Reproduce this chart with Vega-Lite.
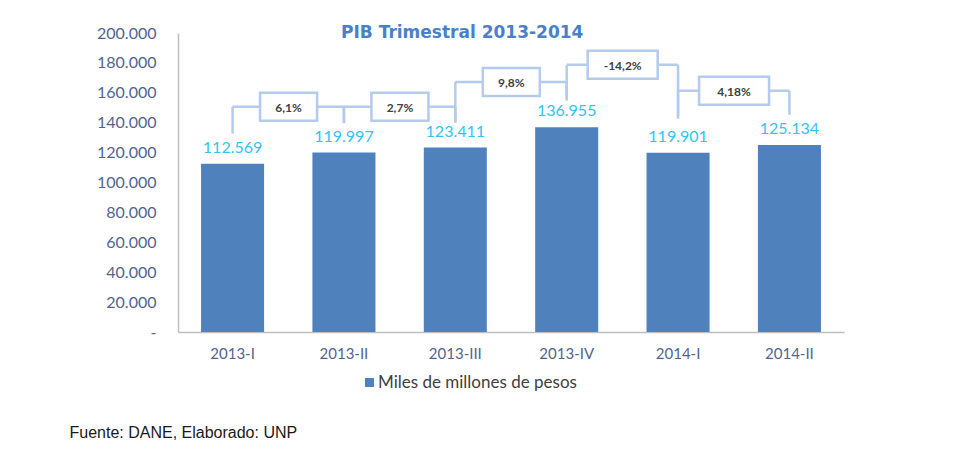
{
  "$schema": "https://vega.github.io/schema/vega-lite/v6.json",
  "width": 666,
  "height": 299,
  "autosize": {"type": "none"},
  "padding": {"left": 178, "top": 33, "right": 136, "bottom": 124},
  "background": "white",
  "title": {
    "text": "PIB Trimestral 2013-2014",
    "anchor": "start",
    "frame": "group",
    "dx": 163,
    "offset": -30,
    "baseline": "alphabetic",
    "font": "DejaVu Sans",
    "fontSize": 17,
    "fontWeight": "bold",
    "color": "#4A80C8"
  },
  "config": {
    "view": {"stroke": null},
    "axisY": {
      "labelOverlap": false,
      "labelSeparation": 0,
      "labelFont": "Lato",
      "labelFontSize": 16,
      "labelColor": "#50658F",
      "labelPadding": 22,
      "ticks": false,
      "grid": false,
      "domainColor": "#BFBFBF",
      "domainWidth": 1.5,
      "title": null
    },
    "locale": {"number": {"decimal": ",", "thousands": ".", "grouping": [3], "currency": ["$", ""]}}
  },
  "datasets": {
    "pib": [
      {"trimestre": "2013-I", "valor": 112569},
      {"trimestre": "2013-II", "valor": 119997},
      {"trimestre": "2013-III", "valor": 123411},
      {"trimestre": "2013-IV", "valor": 136955},
      {"trimestre": "2014-I", "valor": 119901},
      {"trimestre": "2014-II", "valor": 125134}
    ],
    "variaciones": [
      {"desde": "2013-I", "hasta": "2013-II", "variacion": "6,1%", "nivel": 150700, "base_desde": 132700, "base_hasta": 139700},
      {"desde": "2013-II", "hasta": "2013-III", "variacion": "2,7%", "nivel": 150700, "base_desde": 139700, "base_hasta": 140200},
      {"desde": "2013-III", "hasta": "2013-IV", "variacion": "9,8%", "nivel": 167300, "base_desde": 140000, "base_hasta": 154700},
      {"desde": "2013-IV", "hasta": "2014-I", "variacion": "-14,2%", "nivel": 178700, "base_desde": 157300, "base_hasta": 142700},
      {"desde": "2014-I", "hasta": "2014-II", "variacion": "4,18%", "nivel": 161300, "base_desde": 144700, "base_hasta": 145300}
    ]
  },
  "layer": [
    {
      "data": {"name": "pib"},
      "mark": {"type": "bar"},
      "encoding": {
        "x": {
          "field": "trimestre",
          "type": "nominal",
          "sort": null,
          "scale": {"domain": ["2013-I", "2013-II", "2013-III", "2013-IV", "2014-I", "2014-II"], "paddingInner": 0.434, "paddingOuter": 0.207},
          "axis": {
            "title": "Fuente: DANE, Elaborado: UNP",
            "titleFont": "Liberation Sans",
            "titleFontSize": 16,
            "titleFontWeight": "normal",
            "titleColor": "#1a1a1a",
            "titleAlign": "left",
            "titleBaseline": "alphabetic",
            "titleX": -109,
            "titleY": 105,
            "labelAngle": 0,
            "labelFont": "Lato",
            "labelFontSize": 15,
            "labelColor": "#50658F",
            "labelPadding": 14,
            "ticks": false,
            "domainColor": "#BFBFBF",
            "domainWidth": 1.5
          }
        },
        "y": {
          "field": "valor",
          "type": "quantitative",
          "scale": {"domain": [0, 200000], "nice": false},
          "axis": {
            "title": null,
            "values": [0, 20000, 40000, 60000, 80000, 100000, 120000, 140000, 160000, 180000, 200000],
            "labelOverlap": false,
            "labelExpr": "datum.value == 0 ? '-\u00a0\u00a0\u00a0' : replace(format(datum.value, ',d'), regexp(',', 'g'), '.')"
          }
        },
        "color": {
          "datum": "Miles de millones de pesos",
          "scale": {"range": ["#4F81BD"]},
          "legend": {
            "orient": "none",
            "legendX": 183,
            "legendY": 341,
            "title": null,
            "symbolType": "square",
            "symbolSize": 81,
            "symbolStrokeWidth": 0,
            "labelFont": "Lato",
            "labelFontSize": 17,
            "labelColor": "#404040",
            "labelOffset": 0,
            "labelLimit": 400,
            "padding": 0
          }
        }
      }
    },
    {
      "data": {"name": "pib"},
      "mark": {"type": "text", "dy": -11, "baseline": "alphabetic", "font": "Lato", "fontSize": 16, "color": "#33C3F5"},
      "encoding": {
        "x": {"field": "trimestre", "type": "nominal", "sort": null},
        "y": {"field": "valor", "type": "quantitative", "axis": {"title": null, "values": [0, 20000, 40000, 60000, 80000, 100000, 120000, 140000, 160000, 180000, 200000], "labelOverlap": false, "labelExpr": "datum.value == 0 ? '-\u00a0\u00a0\u00a0' : replace(format(datum.value, ',d'), regexp(',', 'g'), '.')"}},
        "text": {"field": "valor", "type": "quantitative", "format": ",d"}
      }
    },
    {
      "data": {"name": "variaciones"},
      "mark": {"type": "rule", "color": "#B3CBEC", "strokeWidth": 2.5},
      "encoding": {
        "x": {"field": "desde", "type": "nominal"},
        "y": {"field": "base_desde", "type": "quantitative", "axis": {"title": null, "values": [0, 20000, 40000, 60000, 80000, 100000, 120000, 140000, 160000, 180000, 200000], "labelOverlap": false, "labelExpr": "datum.value == 0 ? '-\u00a0\u00a0\u00a0' : replace(format(datum.value, ',d'), regexp(',', 'g'), '.')"}},
        "y2": {"field": "nivel"}
      }
    },
    {
      "data": {"name": "variaciones"},
      "mark": {"type": "rule", "color": "#B3CBEC", "strokeWidth": 2.5},
      "encoding": {
        "x": {"field": "hasta", "type": "nominal"},
        "y": {"field": "base_hasta", "type": "quantitative", "axis": {"title": null, "values": [0, 20000, 40000, 60000, 80000, 100000, 120000, 140000, 160000, 180000, 200000], "labelOverlap": false, "labelExpr": "datum.value == 0 ? '-\u00a0\u00a0\u00a0' : replace(format(datum.value, ',d'), regexp(',', 'g'), '.')"}},
        "y2": {"field": "nivel"}
      }
    },
    {
      "data": {"name": "variaciones"},
      "mark": {"type": "rule", "color": "#B3CBEC", "strokeWidth": 2.5},
      "encoding": {
        "x": {"field": "desde", "type": "nominal"},
        "x2": {"field": "hasta"},
        "y": {"field": "nivel", "type": "quantitative", "axis": {"title": null, "values": [0, 20000, 40000, 60000, 80000, 100000, 120000, 140000, 160000, 180000, 200000], "labelOverlap": false, "labelExpr": "datum.value == 0 ? '-\u00a0\u00a0\u00a0' : replace(format(datum.value, ',d'), regexp(',', 'g'), '.')"}}
      }
    },
    {
      "data": {"name": "variaciones"},
      "mark": {"type": "point", "filled": true, "fill": "white", "stroke": "#B3CBEC", "strokeWidth": 2.5, "opacity": 1, "size": 4, "xOffset": 56},
      "encoding": {
        "x": {"field": "desde", "type": "nominal"},
        "y": {"field": "nivel", "type": "quantitative", "axis": {"title": null, "values": [0, 20000, 40000, 60000, 80000, 100000, 120000, 140000, 160000, 180000, 200000], "labelOverlap": false, "labelExpr": "datum.value == 0 ? '-\u00a0\u00a0\u00a0' : replace(format(datum.value, ',d'), regexp(',', 'g'), '.')"}},
        "shape": {
          "condition": {"test": "length(datum.variacion) > 4", "value": "M-35,-14H35V14H-35Z"},
          "value": "M-28.5,-14H28.5V14H-28.5Z"
        }
      }
    },
    {
      "data": {"name": "variaciones"},
      "mark": {"type": "text", "dx": 56, "dy": 1, "font": "Lato", "fontSize": 12, "fontWeight": "bold", "color": "#404040", "baseline": "middle"},
      "encoding": {
        "x": {"field": "desde", "type": "nominal"},
        "y": {"field": "nivel", "type": "quantitative", "axis": {"title": null, "values": [0, 20000, 40000, 60000, 80000, 100000, 120000, 140000, 160000, 180000, 200000], "labelOverlap": false, "labelExpr": "datum.value == 0 ? '-\u00a0\u00a0\u00a0' : replace(format(datum.value, ',d'), regexp(',', 'g'), '.')"}},
        "text": {"field": "variacion"}
      }
    }
  ]
}
